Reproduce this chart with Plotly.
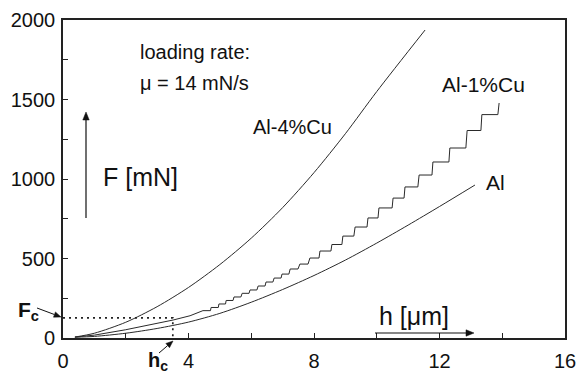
import math
import plotly.graph_objects as go

# ---------------- data ----------------
# Al-4%Cu : smooth loading curve
h_al4cu = [0.38, 1.0, 2.0, 3.0, 4.0, 5.0, 6.0, 7.0, 8.0, 9.0, 10.0, 11.54]
F_al4cu = [6, 30, 99, 197, 318, 462, 628, 820, 1040, 1285, 1550, 1937]

# Al : smooth loading curve
h_al = [0.38, 1.0, 2.0, 3.0, 4.0, 5.0, 6.0, 7.0, 8.0, 9.0, 10.0, 11.0, 12.0, 13.13]
F_al = [5, 10, 30, 60, 100, 155, 225, 305, 393, 490, 597, 710, 827, 962]

# Al-1%Cu : smooth start, then serrated (staircase) loading curve
h_al1cu_smooth = [0.38, 1.0, 2.0, 3.0, 3.51, 4.05]
F_al1cu_smooth = [6, 18, 52, 92, 113, 140]
# steps: start h, end h, force level of each tread
step_h0 = [4.46, 4.72, 4.97, 5.20, 5.45, 5.71, 5.96, 6.22, 6.47, 6.73, 6.98, 7.24, 7.55,
           7.87, 8.19, 8.57, 8.92, 9.31, 9.72, 10.07, 10.52, 10.90, 11.35, 11.79, 12.33,
           12.88, 13.35]
step_h1 = [4.70, 4.95, 5.18, 5.42, 5.67, 5.93, 6.18, 6.44, 6.69, 6.95, 7.20, 7.49, 7.81,
           8.16, 8.54, 8.89, 9.27, 9.69, 10.04, 10.49, 10.87, 11.31, 11.76, 12.30, 12.84,
           13.32, 13.86]
step_F = [172, 192, 214, 236, 258, 281, 302, 327, 352, 377, 402, 434, 465,
          503, 547, 588, 641, 698, 755, 818, 880, 950, 1025, 1107, 1195,
          1305, 1405]
h_al1cu_end = 13.90
F_al1cu_end = 1478

# critical point
F_c = 126
h_c = 3.5

# axis ticks
x_ticks = [0, 4, 8, 12, 16]
y_ticks = [0, 500, 1000, 1500, 2000]

# ---------------- build staircase vertices ----------------
h_al1cu = list(h_al1cu_smooth)
F_al1cu = list(F_al1cu_smooth)
for a, b, f in zip(step_h0, step_h1, step_F):
    h_al1cu += [a, b]
    F_al1cu += [f, f]
h_al1cu.append(h_al1cu_end)
F_al1cu.append(F_al1cu_end)

# ---------------- figure ----------------
W, H = 577, 374
L, R, T, B = 63, 12, 20, 36
PW, PH = W - L - R, H - T - B

def px(xp):
    return (xp - L) / PW

def py(yp):
    return (H - B - yp) / PH

line_col = "#2a2a2a"
fig = go.Figure()
fig.add_trace(go.Scatter(x=h_al4cu, y=F_al4cu, mode="lines",
                         line=dict(color=line_col, width=1, shape="spline", smoothing=0.8)))
fig.add_trace(go.Scatter(x=h_al, y=F_al, mode="lines",
                         line=dict(color=line_col, width=1, shape="spline", smoothing=0.8)))
fig.add_trace(go.Scatter(x=h_al1cu, y=F_al1cu, mode="lines",
                         line=dict(color=line_col, width=1)))
# dotted construction lines for Fc / hc
fig.add_trace(go.Scatter(x=[0, h_c, h_c], y=[F_c, F_c, 0], mode="lines",
                         line=dict(color="#222", width=1.7, dash="2px,4px")))

font = "Liberation Sans, Arial, Helvetica, sans-serif"
ann = []
shapes = []

def txt(text, xp, yp, size=20, xanchor="left", yanchor="middle"):
    ann.append(dict(text=text, x=px(xp), y=py(yp), xref="paper", yref="paper",
                    showarrow=False, xanchor=xanchor, yanchor=yanchor,
                    font=dict(size=size, color="#111", family=font)))

def arrow(x_head, y_head, x_tail, y_tail, width=1.2, head_len=8, head_w=3.2):
    dx, dy = x_head - x_tail, y_head - y_tail
    d = math.hypot(dx, dy)
    ux, uy = dx / d, dy / d
    bx, by = x_head - ux * head_len, y_head - uy * head_len
    nx, ny = -uy, ux
    shapes.append(dict(type="line", xref="paper", yref="paper",
                       x0=px(x_tail), y0=py(y_tail), x1=px(bx), y1=py(by),
                       line=dict(color="#111", width=width)))
    path = "M {} {} L {} {} L {} {} Z".format(
        px(x_head), py(y_head),
        px(bx + nx * head_w), py(by + ny * head_w),
        px(bx - nx * head_w), py(by - ny * head_w))
    shapes.append(dict(type="path", xref="paper", yref="paper", path=path,
                       fillcolor="#111", line=dict(color="#111", width=0.5)))

txt("loading rate:", 138, 52, 20)
txt("\u03bc = 14 mN/s", 138, 83, 20)
txt("Al-4%Cu", 334, 127, 20, xanchor="right")
txt("Al-1%Cu", 440, 85, 21)
txt("Al", 484, 182, 21)
txt("F [mN]", 101, 177, 25)
txt("h [\u03bcm]", 377, 316, 25)
txt("<b>F<sub>c</sub></b>", 16, 311, 21)
txt("<b>h<sub>c</sub></b>", 146, 361, 20)

arrow(86, 112, 86, 218)
arrow(474, 333, 375, 333)
arrow(61, 317, 37, 308, 1.0, 7, 2.8)
arrow(173, 341, 159, 353, 1.0, 7, 2.8)

fig.update_layout(
    width=W, height=H,
    margin=dict(l=L, r=R, t=T, b=B, pad=0),
    paper_bgcolor="white", plot_bgcolor="white",
    showlegend=False,
    font=dict(family=font, size=20, color="#111"),
    annotations=ann,
    shapes=shapes,
    xaxis=dict(range=[0, 16], tickvals=x_ticks, ticktext=[str(v) for v in x_ticks],
               ticks="inside", ticklen=5, tickwidth=1.3, tickcolor="#222",
               minor=dict(ticks="inside", dtick=2, tick0=0, ticklen=5, tickwidth=1.3, tickcolor="#222"),
               showline=True, linewidth=1.6, linecolor="#222", mirror=True,
               showgrid=False, zeroline=False, ticklabelstandoff=4, automargin=False,
               tickfont=dict(size=20, family=font, color="#111")),
    yaxis=dict(range=[0, 2000], tickvals=y_ticks, ticktext=[str(v) for v in y_ticks],
               ticks="inside", ticklen=5, tickwidth=1.3, tickcolor="#222",
               minor=dict(ticks="inside", dtick=250, tick0=0, ticklen=5, tickwidth=1.3, tickcolor="#222"),
               showline=True, linewidth=1.6, linecolor="#222", mirror=True,
               showgrid=False, zeroline=False, ticklabelstandoff=2, automargin=False,
               tickfont=dict(size=20, family=font, color="#111")),
)

fig.write_html("out.html")
